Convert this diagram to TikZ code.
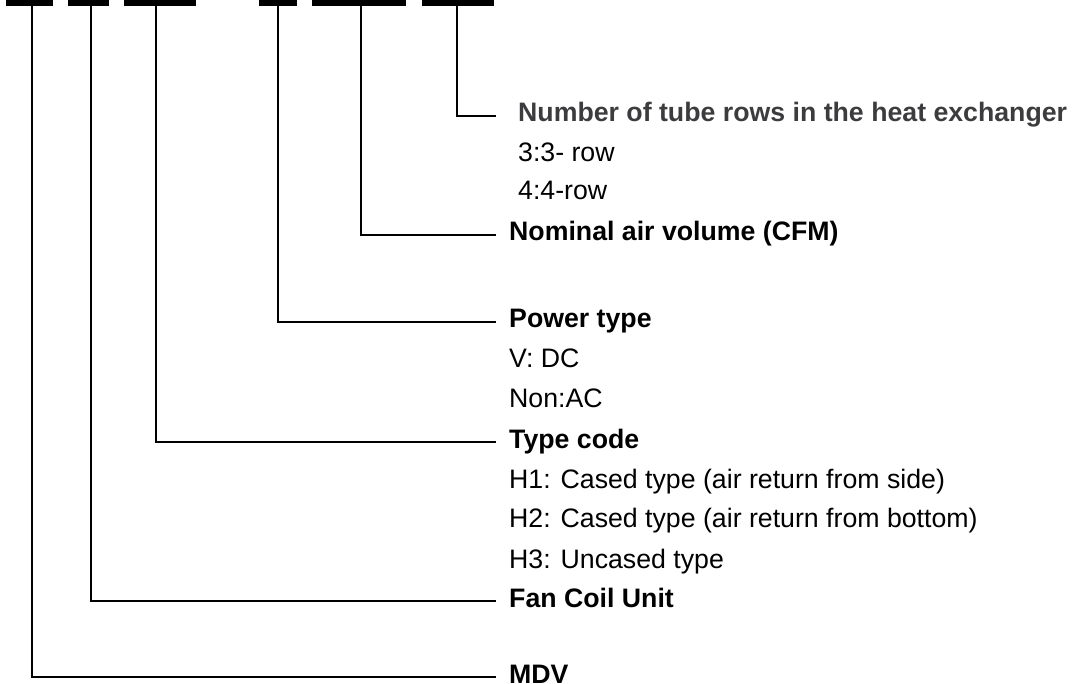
\documentclass[tikz,border=0pt]{standalone}
\usepackage{fontspec}
\setmainfont{Liberation Sans}
\usetikzlibrary{positioning}
\definecolor{headgray}{RGB}{60,60,62}
\tikzstyle{bar} = [rectangle, fill=black, inner sep=0pt, minimum height=6pt]
\tikzstyle{heading} = [anchor=west, inner xsep=13pt, inner ysep=0pt, text height=18.5pt, text depth=6.5pt, font=\fontsize{26.7}{32}\selectfont\bfseries]
\tikzstyle{option} = [heading, font=\fontsize{26.7}{32}\selectfont]
\tikzstyle{leader} = [line width=1.8pt]

\begin{document}
\begin{tikzpicture}[x=1pt, y=-1pt]
    \useasboundingbox (0,0) rectangle (1073,684);
    % Code segments
    \node (b1) [bar, minimum width=47pt] at (29.5,3) {};
    \node (b2) [bar, minimum width=41pt] at (88.5,3) {};
    \node (b3) [bar, minimum width=72pt] at (160,3) {};
    \node (b4) [bar, minimum width=38pt] at (278,3) {};
    \node (b5) [bar, minimum width=94pt] at (359,3) {};
    \node (b6) [bar, minimum width=72pt] at (458,3) {};

    % Labels
    \node (tube) [heading, inner xsep=22pt, text=headgray] at (496,116) {Number of tube rows in the heat exchanger};
    \node (row3) [option, inner xsep=22pt, below right=14pt and 0pt of tube.south west] {3:3- row};
    \node (row4) [option, inner xsep=22pt, below right=13pt and 0pt of row3.south west] {4:4-row};
    \node (cfm) [heading] at (496,235) {Nominal air volume (CFM)};
    \node (power) [heading] at (496,322) {Power type};
    \node (dc) [option, below right=14pt and 0pt of power.south west] {V: DC};
    \node (ac) [option, below right=15pt and 0pt of dc.south west] {Non:AC};
    \node (type) [heading] at (496,442) {Type code};
    \node (h1) [option, below right=15pt and 0pt of type.south west] {H1: Cased type (air return from side)};
    \node (h2) [option, below right=14pt and 0pt of h1.south west] {H2: Cased type (air return from bottom)};
    \node (h3) [option, below right=15pt and 0pt of h2.south west] {H3: Uncased type};
    \node (fcu) [heading] at (496,601) {Fan Coil Unit};
    \node (mdv) [heading] at (496,677) {MDV};

    % Leaders
    \draw [leader] ([xshift=2.5pt]b1.south) |- (mdv.west);
    \draw [leader] ([xshift=2.5pt]b2.south) |- (fcu.west);
    \draw [leader] ([xshift=-4pt]b3.south) |- (type.west);
    \draw [leader] (b4.south) |- (power.west);
    \draw [leader] ([xshift=2pt]b5.south) |- (cfm.west);
    \draw [leader] ([xshift=-1pt]b6.south) |- (tube.west);

\end{tikzpicture}
\end{document}
